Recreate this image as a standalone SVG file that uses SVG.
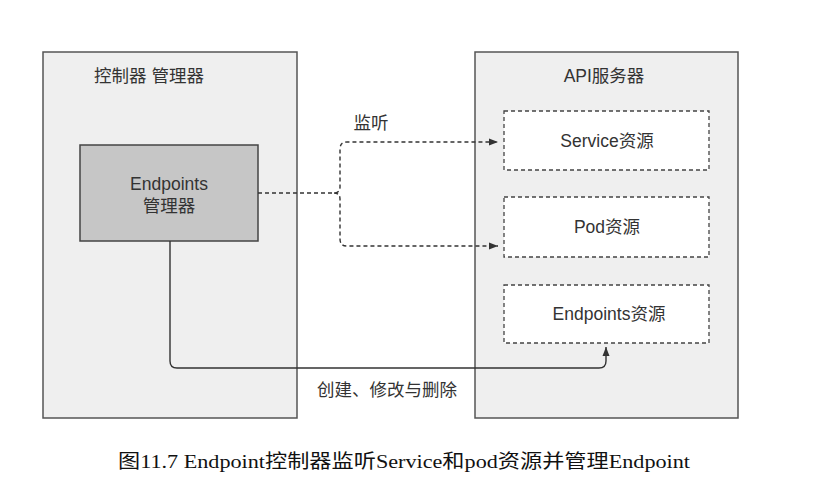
<svg xmlns="http://www.w3.org/2000/svg" width="834" height="496" viewBox="0 0 834 496">
<style>
.cont{fill:#efefef;stroke:#555;stroke-width:1.5}
.mgr{fill:#c6c6c6;stroke:#444;stroke-width:1.5}
.res{fill:#fff;stroke:#444;stroke-width:1.3;stroke-dasharray:4 3}
.t{font-family:"Liberation Sans","Noto Sans CJK SC",sans-serif;font-size:17.5px;fill:#333;text-anchor:middle}
.dash{fill:none;stroke:#333;stroke-width:1.4;stroke-dasharray:4 3}
.solid{fill:none;stroke:#333;stroke-width:1.4}
.cap{font-family:"Liberation Serif","Noto Sans CJK SC",serif;font-size:19px;fill:#111}
</style>
<defs>
<marker id="ah" markerWidth="10" markerHeight="8" refX="9" refY="4" orient="auto" markerUnits="userSpaceOnUse">
<path d="M0,0.5 L9,4 L0,7.5 Z" fill="#333"/>
</marker>
</defs>
<rect width="834" height="496" fill="#fff"/>
<g id="controller-manager">
<rect class="cont" x="43" y="52" width="254" height="366"/>
<text class="t" x="149" y="82">控制器 管理器</text>
</g>
<g id="api-server">
<rect class="cont" x="475" y="52" width="263" height="366"/>
<text class="t" x="604" y="82">API服务器</text>
</g>
<g id="endpoints-manager">
<rect class="mgr" x="80" y="145" width="178" height="96"/>
<text class="t" x="169" y="190">Endpoints</text>
<text class="t" x="169" y="212">管理器</text>
</g>
<g id="service-resource">
<rect class="res" x="504" y="111" width="205" height="59"/>
<text class="t" x="607" y="147">Service资源</text>
</g>
<g id="pod-resource">
<rect class="res" x="504" y="197" width="205" height="60"/>
<text class="t" x="607" y="233">Pod资源</text>
</g>
<g id="endpoints-resource">
<rect class="res" x="504" y="285" width="205" height="58"/>
<text class="t" x="609" y="320">Endpoints资源</text>
</g>
<g id="connectors">
<path class="dash" d="M258,193 H334 Q340,193 340,187 V149 Q340,142 347,142 H498" marker-end="url(#ah)"/>
<path class="dash" d="M334,193 Q340,193 340,199 V239 Q340,246 347,246 H498" marker-end="url(#ah)"/>
<path class="solid" d="M170,241 V361 Q170,368 177,368 H599 Q606,368 606,361 V347" marker-end="url(#ah)"/>
<text class="t" x="371" y="129">监听</text>
<text class="t" x="387" y="396">创建、修改与删除</text>
</g>
<text class="cap" x="118" y="468" textLength="572" lengthAdjust="spacingAndGlyphs">图11.7 Endpoint控制器监听Service和pod资源并管理Endpoint</text>
</svg>
